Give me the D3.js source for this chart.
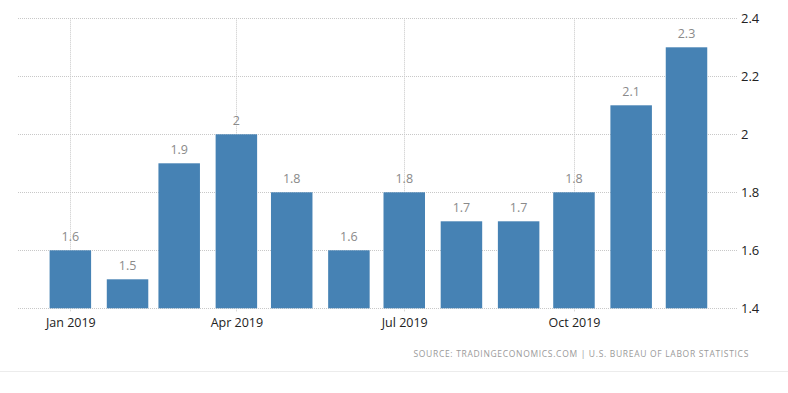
<!DOCTYPE html>
<html><head><meta charset="utf-8">
<script src="https://cdn.jsdelivr.net/npm/d3@7"></script>
<style>
html,body{margin:0;padding:0;background:#fff;}
svg{display:block;}
</style></head>
<body>
<svg id="chart" width="788" height="393"></svg>
<script>
const months = ["2019-01","2019-02","2019-03","2019-04","2019-05","2019-06","2019-07","2019-08","2019-09","2019-10","2019-11","2019-12"];
const values = [1.6,1.5,1.9,2.0,1.8,1.6,1.8,1.7,1.7,1.8,2.1,2.3];
const yTicks = [1.4,1.6,1.8,2.0,2.2,2.4];
const xTickMonths = ["2019-01","2019-04","2019-07","2019-10"];
const sourceText = "SOURCE: TRADINGECONOMICS.COM | U.S. BUREAU OF LABOR STATISTICS";

const parse = d3.timeParse("%Y-%m");
const svg = d3.select("#chart");
const plotLeft = 18, plotRight = 738, plotTop = 18.3, plotBottom = 308.3;

const x = d3.scaleTime()
  .domain([new Date(2018,11,3,15), new Date(2019,11,28,22)])
  .range([plotLeft, plotRight]);
const y = d3.scaleLinear().domain([1.4, 2.4]).range([plotBottom, plotTop]);
const barW = 41.5;

// horizontal grid
svg.append("g").selectAll("line").data(yTicks).join("line")
  .attr("x1", plotLeft).attr("x2", plotRight)
  .attr("y1", d => Math.round(y(d)) + 0.5).attr("y2", d => Math.round(y(d)) + 0.5)
  .attr("stroke", "#c8c8c8").attr("stroke-width", 1).attr("stroke-dasharray", "1,1");

// vertical grid
svg.append("g").selectAll("line").data(xTickMonths).join("line")
  .attr("x1", d => Math.round(x(parse(d))) + 0.5).attr("x2", d => Math.round(x(parse(d))) + 0.5)
  .attr("y1", plotTop).attr("y2", plotBottom + 4)
  .attr("stroke", "#c8c8c8").attr("stroke-width", 1).attr("stroke-dasharray", "1,1");

// bars
svg.append("g").selectAll("rect").data(months).join("rect")
  .attr("x", d => x(parse(d)) - barW/2)
  .attr("width", barW)
  .attr("y", (d,i) => y(values[i]))
  .attr("height", (d,i) => y(1.4) - y(values[i]))
  .attr("fill", "#4682b4");

// value labels
svg.append("g").selectAll("text").data(months).join("text")
  .attr("x", d => x(parse(d)))
  .attr("y", (d,i) => y(values[i]) - 9)
  .attr("text-anchor", "middle")
  .attr("font-family", "'Open Sans', sans-serif")
  .attr("font-size", 12.5)
  .attr("fill", "#8a8a8a")
  .text((d,i) => d3.format("")(values[i]));

// y axis labels (right)
const yAxis = d3.axisRight(y).tickValues(yTicks).tickSize(0).tickPadding(0).tickFormat(d3.format(""));
const ya = svg.append("g").attr("transform", `translate(741,0)`).call(yAxis);
ya.select(".domain").remove();
ya.selectAll("text").attr("font-family", "'Open Sans', sans-serif").attr("font-size", 13)
  .attr("fill", "#222").attr("dy", "0.35em");

// x axis labels
const xAxis = d3.axisBottom(x).tickValues(xTickMonths.map(parse)).tickSize(0).tickPadding(0)
  .tickFormat(d3.timeFormat("%b %Y"));
const xa = svg.append("g").attr("transform", `translate(0,${plotBottom})`).call(xAxis);
xa.select(".domain").remove();
xa.selectAll("text").attr("font-family", "'Open Sans', sans-serif").attr("font-size", 12.5)
  .attr("fill", "#222").attr("dy", null).attr("y", 18.5);

// source
svg.append("text")
  .attr("x", 749).attr("y", 357)
  .attr("text-anchor", "end")
  .attr("font-family", "'Open Sans', sans-serif")
  .attr("font-size", 8.5)
  .attr("letter-spacing", "0.68px")
  .attr("fill", "#9a9a9a")
  .text(sourceText);

// bottom separator
svg.append("line").attr("x1", 0).attr("x2", 788).attr("y1", 371.5).attr("y2", 371.5)
  .attr("stroke", "#ececec").attr("stroke-width", 1);
</script>
</body></html>
